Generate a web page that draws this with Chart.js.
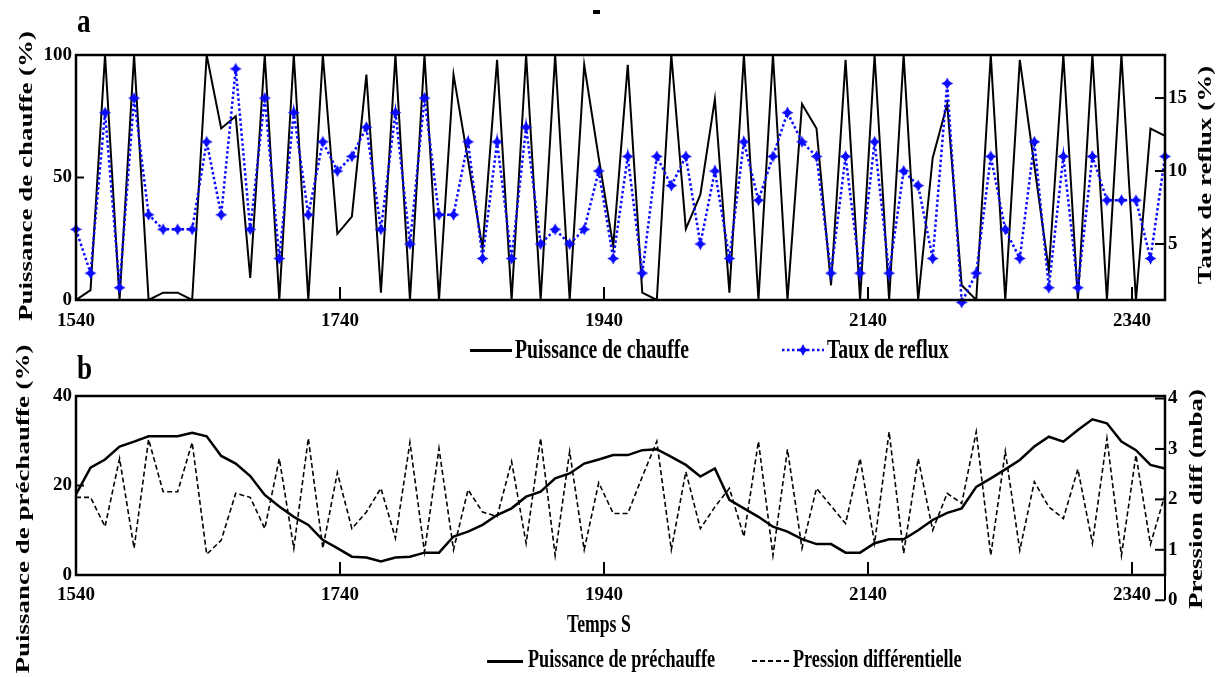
<!DOCTYPE html>
<html>
<head>
<meta charset="utf-8">
<script src="https://cdn.jsdelivr.net/npm/chart.js@4.4.1/dist/chart.umd.min.js"></script>
<style>
  body { margin: 0; background: #fff; width: 1217px; height: 677px; position: relative; overflow: hidden;
         font-family: 'Liberation Serif', 'Times New Roman', serif; font-weight: bold; color: #000; }
  canvas { position: absolute; left: 0; }
  .txt { position: absolute; white-space: nowrap; line-height: 1; font-weight: bold; transform-origin: 0 50%; }
  .v { position: absolute; white-space: nowrap; line-height: 1; font-weight: bold; font-size: 27px;
       transform: translate(-50%, -50%) rotate(-90deg) scaleY(0.72); }
  .sample { position: absolute; }
</style>
</head>
<body>

<canvas id="chartA" width="1217" height="340" style="top:0"></canvas>
<canvas id="chartB" width="1217" height="337" style="top:340px"></canvas>

<div style="position:absolute;left:593px;top:10px;width:7px;height:4px;background:#000"></div>
<div class="txt" style="left:77px;top:4px;font-size:34px;transform:scaleX(0.8)">a</div>
<div class="txt" style="left:77px;top:351px;font-size:34px;transform:scaleX(0.8)">b</div>

<div class="v" style="left:26px;top:176px">Puissance de chauffe (%)</div>
<div class="v" style="left:1205px;top:175px">Taux de reflux (%)</div>
<div class="v" style="left:23px;top:509px">Puissance de préchauffe (%)</div>
<div class="v" style="left:1196px;top:499px">Pression diff (mba)</div>

<div class="txt" style="left:567px;top:611px;font-size:26px;transform:scaleX(0.68)">Temps S</div>

<!-- legend a -->
<div class="sample" style="left:470px;top:349px;width:42px;height:2.5px;background:#000"></div>
<div class="txt" style="left:515px;top:336px;font-size:27px;transform:scaleX(0.73)">Puissance de chauffe</div>
<svg class="sample" style="left:782px;top:343px" width="42" height="14">
  <line x1="0" y1="7" x2="42" y2="7" stroke="#0a0aff" stroke-width="2.5" stroke-dasharray="2.5 2.5"/>
  <path d="M21 1 L23 5 L27 7 L23 9 L21 13 L19 9 L15 7 L19 5 Z" fill="#0a0aff"/>
</svg>
<div class="txt" style="left:827px;top:336px;font-size:27px;transform:scaleX(0.73)">Taux de reflux</div>

<!-- legend b -->
<div class="sample" style="left:487px;top:660px;width:36px;height:2.5px;background:#000"></div>
<div class="txt" style="left:528px;top:646px;font-size:26px;transform:scaleX(0.7)">Puissance de préchauffe</div>
<svg class="sample" style="left:752px;top:655px" width="37" height="12">
  <line x1="0" y1="6" x2="37" y2="6" stroke="#000" stroke-width="2" stroke-dasharray="5 3"/>
</svg>
<div class="txt" style="left:793px;top:646px;font-size:26px;transform:scaleX(0.7)">Pression différentielle</div>

<script>
// Temps (s)
const temps = [
  1540, 1551, 1562, 1573, 1584, 1595, 1606, 1617, 1628, 1639, 1650, 1661, 1672, 1683, 1694, 1705,
  1716, 1727, 1738, 1749, 1760, 1771, 1782, 1793, 1804, 1815, 1826, 1837, 1848, 1859, 1870, 1881,
  1892, 1903, 1914, 1925, 1936, 1947, 1958, 1969, 1980, 1991, 2002, 2013, 2024, 2035, 2046, 2057,
  2068, 2079, 2090, 2101, 2112, 2123, 2134, 2145, 2156, 2167, 2178, 2189, 2200, 2211, 2222, 2233,
  2244, 2255, 2266, 2277, 2288, 2299, 2310, 2321, 2332, 2343, 2354, 2365
]

// a : Puissance de chauffe (%)
const chauffe = [
  0, 4, 100, 0, 100, 0, 3, 3, 0, 100, 70, 75, 9, 100, 0, 100,
  0, 100, 27, 34, 92, 3, 100, 0, 100, 0, 92, 57, 21, 98, 0, 100,
  0, 100, 0, 96, 58, 22, 96, 3, 0, 100, 29, 43, 82, 3, 100, 0,
  100, 0, 80, 70, 6, 98, 0, 100, 0, 100, 0, 58, 80, 6, 0, 100,
  0, 98, 55, 12, 100, 0, 100, 0, 100, 0, 70, 67
]

// a : Taux de reflux (%)
const reflux = [
  6, 3, 14, 2, 15, 7, 6, 6, 6, 12, 7, 17, 6, 15, 4, 14,
  7, 12, 10, 11, 13, 6, 14, 5, 15, 7, 7, 12, 4, 12, 4, 13,
  5, 6, 5, 6, 10, 4, 11, 3, 11, 9, 11, 5, 10, 4, 12, 8,
  11, 14, 12, 11, 3, 11, 3, 12, 3, 10, 9, 4, 16, 1, 3, 11,
  6, 4, 12, 2, 11, 2, 11, 8, 8, 8, 4, 11
]

// b : Puissance de préchauffe (%)
const prechauffe = [
  18, 24, 25.8, 28.7, 29.8, 31, 31, 31, 31.8, 31, 26.6, 24.9, 22.1, 17.9, 15.3, 13,
  11.2, 7.8, 6, 4.1, 3.9, 3, 3.9, 4.1, 5, 5, 8.6, 9.7, 11.2, 13.4, 14.9, 17.5,
  18.6, 21.6, 22.7, 24.9, 25.8, 26.8, 26.8, 27.9, 28.1, 26.4, 24.6, 22, 23.8, 16.8, 14.9, 13,
  10.8, 9.7, 8, 6.9, 6.9, 5, 5, 7.1, 8, 8, 10, 12.3, 13.9, 14.9, 19.7, 21.6,
  23.6, 25.7, 28.7, 30.9, 29.8, 32.4, 34.8, 33.9, 29.8, 27.9, 24.6, 23.8
]

// b : Pression différentielle (mba)
const pression = [
  2.04, 2.04, 1.46, 2.81, 1.03, 3.19, 2.15, 2.15, 3.13, 0.91, 1.19, 2.12, 2.04, 1.42, 2.81, 1.03,
  3.21, 1.03, 2.53, 1.42, 1.75, 2.22, 1.23, 3.13, 0.96, 3.01, 1.0, 2.19, 1.75, 1.66, 2.75, 1.13,
  3.21, 0.89, 2.95, 1.0, 2.33, 1.72, 1.72, 2.45, 3.15, 1.0, 2.55, 1.42, 1.85, 2.22, 1.26, 3.15,
  0.89, 2.99, 1.03, 2.22, 1.87, 1.52, 2.81, 1.13, 3.34, 0.93, 2.81, 1.39, 2.12, 1.92, 3.34, 0.89,
  2.95, 0.99, 2.35, 1.85, 1.62, 2.6, 1.13, 3.21, 0.89, 2.88, 1.11, 2.09
]

const xTicks = [1540, 1740, 1940, 2140, 2340]
const chauffeTicks = [0, 50, 100]
const refluxTicks = [5, 10, 15]
const prechauffeTicks = [0, 20, 40]
const pressionTicks = [1, 2, 3, 4]

const BLUE = '#0a0aff'
const tickFont = { family: "'Liberation Serif', 'Times New Roman', serif", size: 19, weight: 'bold' }

function pairs(xs, ys) {
  return xs.map((x, i) => ({ x, y: ys[i] }))
}

function makeStar() {
  const c = document.createElement('canvas')
  c.width = 13; c.height = 13
  const g = c.getContext('2d')
  g.fillStyle = BLUE
  g.beginPath()
  g.moveTo(6.5, 0.5); g.lineTo(8.6, 4.4); g.lineTo(12.5, 6.5); g.lineTo(8.6, 8.6)
  g.lineTo(6.5, 12.5); g.lineTo(4.4, 8.6); g.lineTo(0.5, 6.5); g.lineTo(4.4, 4.4)
  g.closePath(); g.fill()
  g.beginPath(); g.arc(6.5, 6.5, 3, 0, Math.PI * 2); g.fill()
  return c
}

function setTicks(list) {
  return s => { s.ticks = list.map(v => ({ value: v })) }
}

function tickOpts(padding) {
  return { font: tickFont, color: '#000', autoSkip: false, maxRotation: 0, padding, callback: v => String(v) }
}

function axis(extra) {
  return Object.assign({
    type: 'linear',
    grid: { display: false, drawTicks: false },
    border: { display: false },
  }, extra)
}

// box + matlab style inner ticks
const boxPlugin = {
  id: 'box',
  afterDraw(chart) {
    const { ctx, chartArea: a } = chart
    ctx.save()
    ctx.strokeStyle = '#000'
    ctx.lineWidth = 2
    Object.values(chart.scales).forEach(s => {
      s.ticks.forEach(t => {
        const p = s.getPixelForValue(t.value)
        ctx.beginPath()
        if (s.axis === 'x') { ctx.moveTo(p, a.bottom); ctx.lineTo(p, a.bottom - 13) }
        else if (s.position === 'left') { ctx.moveTo(a.left, p); ctx.lineTo(a.left + 8, p) }
        else { ctx.moveTo(a.right, p); ctx.lineTo(a.right - 10, p) }
        ctx.stroke()
      })
    })
    ctx.lineWidth = 2.5
    ctx.strokeRect(a.left, a.top, a.width, a.height)

    const ext = chart.options.plugins.box && chart.options.plugins.box.extendRight
    if (ext) {
      const s = chart.scales[ext]
      const p0 = s.getPixelForValue(0)
      ctx.lineWidth = 2
      ctx.beginPath()
      ctx.moveTo(a.right, a.bottom); ctx.lineTo(a.right, p0)
      ctx.moveTo(a.right, p0); ctx.lineTo(a.right - 10, p0)
      ctx.stroke()
      ctx.fillStyle = '#000'
      ctx.font = `bold ${tickFont.size}px ${tickFont.family}`
      ctx.textAlign = 'left'
      ctx.textBaseline = 'middle'
      ctx.fillText('0', a.right + 3, p0)
    }
    ctx.restore()
  }
}

new Chart(document.getElementById('chartA'), {
  type: 'line',
  data: {
    datasets: [
      {
        label: 'Taux de reflux', data: pairs(temps, reflux), yAxisID: 'y2',
        borderColor: BLUE, borderWidth: 2.5, borderDash: [2.5, 2.5],
        pointStyle: makeStar(), pointRadius: 6, order: 0, clip: false,
      },
      {
        label: 'Puissance de chauffe', data: pairs(temps, chauffe), yAxisID: 'y',
        borderColor: '#000', borderWidth: 2, pointRadius: 0, order: 1,
      },
    ],
  },
  options: {
    responsive: false,
    animation: false,
    layout: { padding: { top: 55 } },
    plugins: { legend: { display: false }, tooltip: { enabled: false } },
    scales: {
      x: axis({ min: 1540, max: 2365, afterBuildTicks: setTicks(xTicks), afterFit: s => { s.height = 40 }, ticks: tickOpts(10) }),
      y: axis({ position: 'left', min: 0, max: 100, afterBuildTicks: setTicks(chauffeTicks), afterFit: s => { s.width = 76 }, ticks: tickOpts(4) }),
      y2: axis({ position: 'right', min: 1.16, max: 17.95, afterBuildTicks: setTicks(refluxTicks), afterFit: s => { s.width = 52 }, ticks: tickOpts(3) }),
    },
  },
  plugins: [boxPlugin],
})

new Chart(document.getElementById('chartB'), {
  type: 'line',
  data: {
    datasets: [
      {
        label: 'Puissance de préchauffe', data: pairs(temps, prechauffe), yAxisID: 'y',
        borderColor: '#000', borderWidth: 2.5, pointRadius: 0,
      },
      {
        label: 'Pression différentielle', data: pairs(temps, pression), yAxisID: 'y2',
        borderColor: '#000', borderWidth: 1.6, borderDash: [5, 3], pointRadius: 0,
      },
    ],
  },
  options: {
    responsive: false,
    animation: false,
    layout: { padding: { top: 56 } },
    plugins: { legend: { display: false }, tooltip: { enabled: false }, box: { extendRight: 'y2' } },
    scales: {
      x: axis({ min: 1540, max: 2365, afterBuildTicks: setTicks(xTicks), afterFit: s => { s.height = 102 }, ticks: tickOpts(9) }),
      y: axis({ position: 'left', min: 0, max: 40, afterBuildTicks: setTicks(prechauffeTicks), afterFit: s => { s.width = 76 }, ticks: tickOpts(4) }),
      y2: axis({ position: 'right', min: 0.5, max: 4.05, afterBuildTicks: setTicks(pressionTicks), afterFit: s => { s.width = 52 }, ticks: tickOpts(3) }),
    },
  },
  plugins: [boxPlugin],
})
</script>
</body>
</html>
